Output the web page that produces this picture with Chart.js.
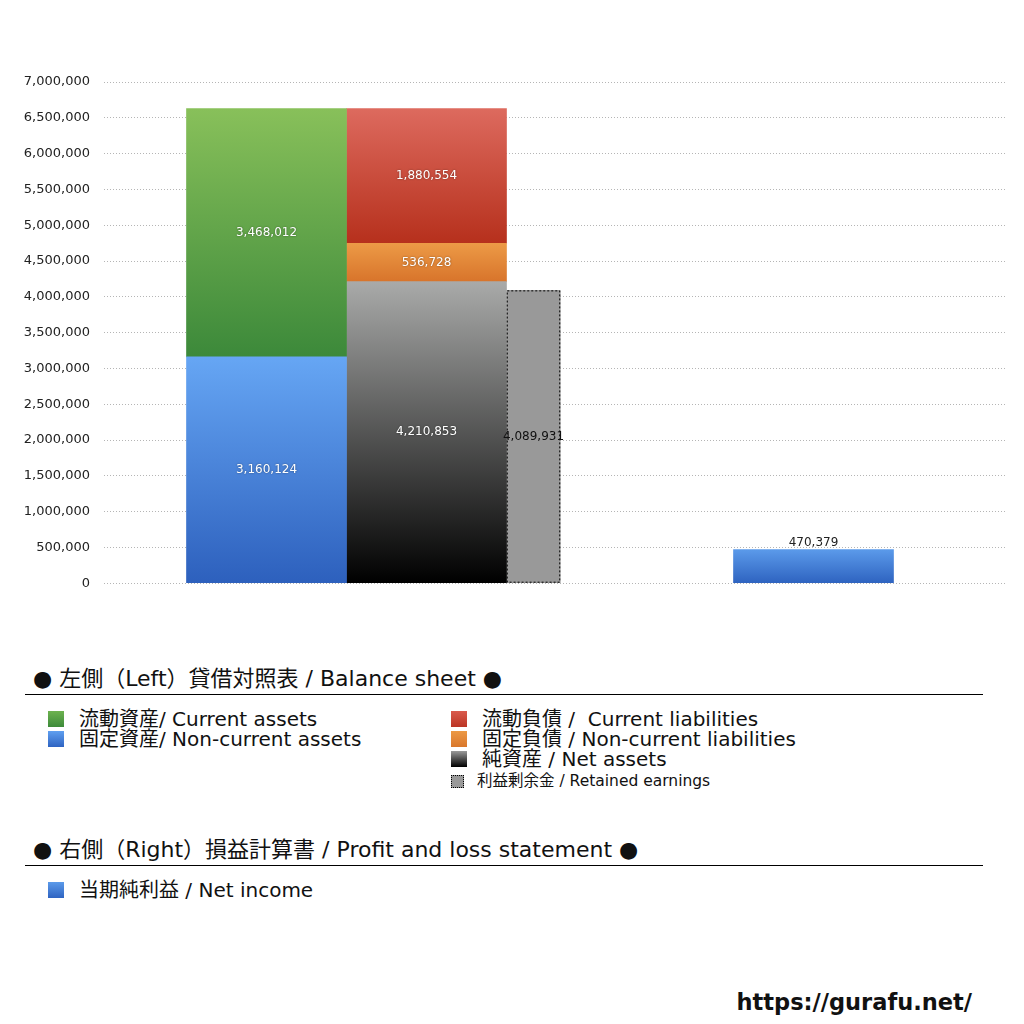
<!DOCTYPE html>
<html lang="ja">
<head>
<meta charset="utf-8">
<title>貸借対照表 / 損益計算書</title>
<script src="https://cdn.jsdelivr.net/npm/chart.js@4"></script>
<style>
  html, body {
    margin: 0;
    padding: 0;
    background: #fff;
  }
  body {
    width: 1024px;
    height: 1024px;
    position: relative;
    overflow: hidden;
    font-family: "DejaVu Sans", "Noto Sans CJK JP", sans-serif;
    color: #111;
  }
  #chartBox {
    position: absolute;
    left: 0;
    top: 0;
    width: 1024px;
    height: 605px;
  }
  .section-title {
    position: absolute;
    left: 25px;
    width: 950px;
    padding-left: 8px;
    height: 30px;
    line-height: 30px;
    font-size: 22px;
    border-bottom: 1px solid #000;
    white-space: nowrap;
  }
  .item {
    position: absolute;
    height: 20px;
    line-height: 20px;
    font-size: 20px;
    white-space: nowrap;
  }
  .item .sw {
    position: absolute;
    left: 0;
    top: 2px;
    width: 16px;
    height: 16px;
  }
  .item .tx {
    position: absolute;
    left: 31px;
    top: 0;
  }
  .item.small {
    font-size: 15.5px;
  }
  .item.small .sw {
    top: 4px;
    width: 11px;
    height: 11px;
    background: #999;
    border: 1px dotted #000;
  }
  .item.small .tx {
    left: 26px;
  }
  #site {
    position: absolute;
    right: 52px;
    top: 989px;
    font-size: 22.5px;
    font-weight: bold;
  }
</style>
</head>
<body>

<div id="chartBox"><canvas id="bsChart"></canvas></div>

<div class="section-title" style="top:664px;">● 左側（Left）貸借対照表 / Balance sheet ●</div>

<div class="item" style="left:48px; top:709px;">
  <span class="sw" style="background:linear-gradient(#6db24f,#3d8a3a);"></span>
  <span class="tx">流動資産/ Current assets</span>
</div>
<div class="item" style="left:48px; top:729px;">
  <span class="sw" style="background:linear-gradient(#5f9ff0,#2f64c2);"></span>
  <span class="tx">固定資産/ Non-current assets</span>
</div>

<div class="item" style="left:451px; top:709px;">
  <span class="sw" style="background:linear-gradient(#d95a4c,#bb3524);"></span>
  <span class="tx">流動負債 /&nbsp; Current liabilities</span>
</div>
<div class="item" style="left:451px; top:729px;">
  <span class="sw" style="background:linear-gradient(#ec9945,#d9772c);"></span>
  <span class="tx">固定負債 / Non-current liabilities</span>
</div>
<div class="item" style="left:451px; top:749px;">
  <span class="sw" style="background:linear-gradient(#9a9a9a,#000);"></span>
  <span class="tx">純資産 / Net assets</span>
</div>
<div class="item small" style="left:451px; top:771px;">
  <span class="sw"></span>
  <span class="tx">利益剰余金 / Retained earnings</span>
</div>

<div class="section-title" style="top:835px;">● 右側（Right）損益計算書 / Profit and loss statement ●</div>

<div class="item" style="left:48px; top:880px;">
  <span class="sw" style="background:linear-gradient(#5b9aea,#2f64c2);"></span>
  <span class="tx">当期純利益 / Net income</span>
</div>

<div id="site">https://gurafu.net/</div>

<script>
  /* ================= DATA ================= */

  const categories = ['貸借対照表', '損益計算書'];

  const currentAssets         = [3468012, null];
  const nonCurrentAssets      = [3160124, null];
  const currentLiabilities    = [1880554, null];
  const nonCurrentLiabilities = [536728, null];
  const netAssets             = [4210853, null];
  const retainedEarnings      = [4089931, null];
  const netIncome             = [null, 470379];

  const yMax = 7000000;
  const yStep = 500000;

  /* ================= LAYOUT ================= */

  // x axis is split into 7 equal slots; the two statements use slots 2 and 5
  const SLOT_COUNT = 7;
  const SLOT_OF = [2, 5];

  const slotLabels = Array.from({ length: SLOT_COUNT }, (_, i) => {
    const k = SLOT_OF.indexOf(i);
    return k >= 0 ? categories[k] : '';
  });

  function toSlots(values) {
    return slotLabels.map((_, i) => {
      const k = SLOT_OF.indexOf(i);
      return k >= 0 ? values[k] : null;
    });
  }

  const fmt = v => Number(v).toLocaleString('en-US');
  const FONT = '"DejaVu Sans", "Noto Sans CJK JP", sans-serif';

  /* ================= HELPERS ================= */

  // vertical gradient that runs over one bar segment only
  function barGradient(top, bottom) {
    return (context) => {
      const { chart, datasetIndex, dataIndex } = context;
      if (!chart.chartArea || dataIndex === undefined) return bottom;

      const datasets = chart.data.datasets;
      const value = datasets[datasetIndex].data[dataIndex];
      if (value == null) return bottom;

      let base = 0;
      for (let i = 0; i < datasetIndex; i++) {
        if (datasets[i].stack === datasets[datasetIndex].stack && datasets[i].data[dataIndex] != null) {
          base += datasets[i].data[dataIndex];
        }
      }

      const y = chart.scales.y;
      const g = chart.ctx.createLinearGradient(0, y.getPixelForValue(base + value), 0, y.getPixelForValue(base));
      g.addColorStop(0, top);
      g.addColorStop(1, bottom);
      return g;
    };
  }

  // dotted outline + value labels
  const barDecorations = {
    id: 'barDecorations',
    afterDatasetsDraw(chart) {
      const { ctx } = chart;

      chart.data.datasets.forEach((ds, i) => {
        if (!ds.dottedBorder) return;
        chart.getDatasetMeta(i).data.forEach((bar, j) => {
          if (ds.data[j] == null) return;
          ctx.save();
          ctx.strokeStyle = '#000';
          ctx.lineWidth = 1;
          ctx.setLineDash([2, 2]);
          ctx.strokeRect(bar.x - bar.width / 2 + 0.5, bar.y + 0.5, bar.width - 1, bar.base - bar.y - 1);
          ctx.restore();
        });
      });

      chart.data.datasets.forEach((ds, i) => {
        chart.getDatasetMeta(i).data.forEach((bar, j) => {
          const v = ds.data[j];
          if (v == null) return;
          ctx.save();
          ctx.font = '12px ' + FONT;
          ctx.textAlign = 'center';
          if (ds.labelAbove) {
            ctx.fillStyle = '#222';
            ctx.textBaseline = 'bottom';
            ctx.fillText(fmt(v), bar.x, bar.y - 1);
          } else {
            ctx.fillStyle = ds.labelColor || '#fff';
            ctx.textBaseline = 'middle';
            if (!ds.labelColor) {
              ctx.shadowColor = 'rgba(0,0,0,0.45)';
              ctx.shadowBlur = 2;
            }
            ctx.fillText(fmt(v), bar.x, (bar.y + bar.base) / 2);
          }
          ctx.restore();
        });
      });
    }
  };

  /* ================= CHART ================= */

  new Chart(document.getElementById('bsChart'), {
    type: 'bar',
    data: {
      labels: slotLabels,
      datasets: [
        {
          label: '固定資産/ Non-current assets',
          data: toSlots(nonCurrentAssets),
          stack: 'assets',
          barThickness: 160,
          backgroundColor: barGradient('#66a6f4', '#2d60bd')
        },
        {
          label: '流動資産/ Current assets',
          data: toSlots(currentAssets),
          stack: 'assets',
          barThickness: 160,
          backgroundColor: barGradient('#88c05a', '#3c893a')
        },
        {
          label: '純資産 / Net assets',
          data: toSlots(netAssets),
          stack: 'equity',
          barThickness: 160,
          backgroundColor: barGradient('#a9aaa9', '#000000')
        },
        {
          label: '固定負債 / Non-current liabilities',
          data: toSlots(nonCurrentLiabilities),
          stack: 'equity',
          barThickness: 160,
          backgroundColor: barGradient('#ec9a46', '#d8742b')
        },
        {
          label: '流動負債 / Current liabilities',
          data: toSlots(currentLiabilities),
          stack: 'equity',
          barThickness: 160,
          backgroundColor: barGradient('#dd6a5e', '#b6301c')
        },
        {
          // slot width of 107 puts it right next to the liabilities column,
          // maxBarThickness keeps the drawn bar narrow
          label: '利益剰余金 / Retained earnings',
          data: toSlots(retainedEarnings),
          stack: 'retained',
          barThickness: 107,
          maxBarThickness: 53.5,
          backgroundColor: '#999999',
          dottedBorder: true,
          labelColor: '#111'
        },
        {
          label: '当期純利益 / Net income',
          data: toSlots(netIncome),
          stack: 'income',
          barThickness: 160,
          backgroundColor: barGradient('#5b9aea', '#2e63c0'),
          labelAbove: true
        }
      ]
    },
    options: {
      responsive: true,
      maintainAspectRatio: false,
      animation: false,
      skipNull: true,
      layout: {
        padding: { top: 82, right: 17, bottom: 0, left: 0 }
      },
      plugins: {
        legend: { display: false },
        tooltip: { enabled: false }
      },
      scales: {
        x: {
          display: false,
          stacked: true,
          grid: { display: false }
        },
        y: {
          stacked: true,
          min: 0,
          max: yMax,
          border: { display: false, dash: [1, 2] },
          grid: {
            color: '#b5b5b5',
            lineWidth: 1,
            drawTicks: false
          },
          ticks: {
            stepSize: yStep,
            padding: 14,
            color: '#222',
            font: { family: FONT, size: 13 },
            callback: v => fmt(v)
          },
          afterFit(axis) {
            axis.width = 104;
          }
        }
      }
    },
    plugins: [barDecorations]
  });
</script>
</body>
</html>
